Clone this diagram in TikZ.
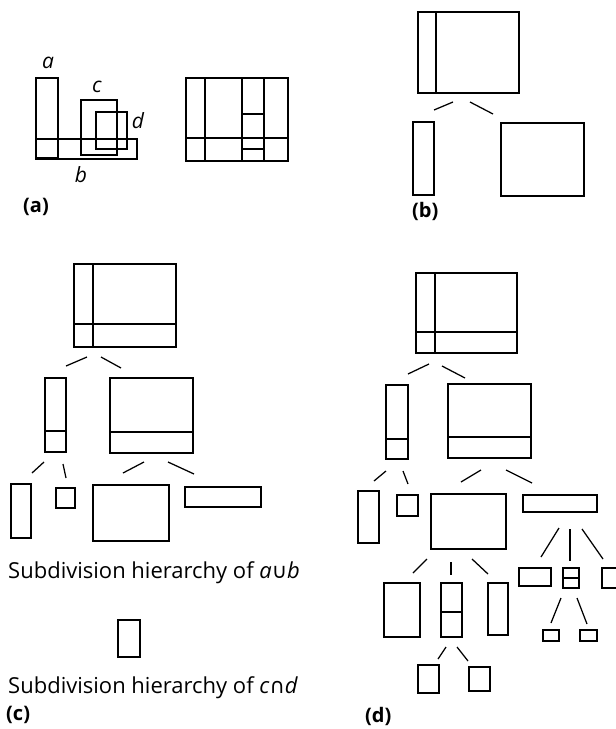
\documentclass[tikz,border=0pt]{standalone}
\usepackage{fontspec}
\setmainfont{Open Sans}
\newfontfamily\symfont{DejaVu Sans}
\usetikzlibrary{fit}
\tikzset{
  box/.style={draw, line width=1.25pt, inner sep=0pt},
  conn/.style={line width=1.25pt},
  sub/.style={line width=1.25pt},
  lab/.style={font=\fontsize{21}{22}\selectfont\itshape, inner sep=0pt},
  figlab/.style={font=\bfseries\fontsize{20}{22}\selectfont, inner sep=0pt, anchor=west},
  txt/.style={font=\fontsize{22}{24}\selectfont, inner sep=0pt, anchor=base west}
}
\newcommand\bx[5]{\node[box, fit={(#2,#3) (#4,#5)}] (#1) {};}
\newcommand\lnk[5]{\coordinate (#1s) at (#2,#3); \coordinate (#1e) at (#4,#5); \draw[conn] (#1s) -- (#1e);}
\begin{document}
\begin{tikzpicture}[x=1pt,y=-1pt]
\useasboundingbox (0,0) rectangle (616,729);
% ---------- panel (a) ----------
\bx{rb}{36}{139}{137}{159}
\bx{ra}{36}{78}{58}{158}
\bx{rc}{81}{100}{117}{155}
\bx{rd}{96}{112}{127}{149}
\node[lab] (la) at (48,63) {a};
\node[lab] (lc) at (97,87) {c};
\node[lab] (ld) at (138,121) {d};
\node[lab] (lb) at (81,175) {b};
\bx{ar}{186}{78}{288}{161}
\draw[sub] (205,78) -- (205,161);
\draw[sub] (242,78) -- (242,161);
\draw[sub] (264,78) -- (264,161);
\draw[sub] (186,138) -- (288,138);
\draw[sub] (242,114) -- (264,114);
\draw[sub] (242,149) -- (264,149);
\node[figlab] (capa) at (23,207) {(a)};
% ---------- panel (b) ----------
\bx{b0}{418}{12}{519}{93}
\draw[sub] (436,12) -- (436,93);
\bx{b1}{413}{122}{434}{195}
\bx{b2}{501}{123}{584}{196}
\lnk{bl1}{434}{110}{453}{102}
\lnk{bl2}{470}{102}{493}{114}
\node[figlab] (capb) at (412,211) {(b)};
% ---------- panel (c) ----------
\bx{c0}{74}{264}{176}{347}
\draw[sub] (93,264) -- (93,347);
\draw[sub] (74,324) -- (176,324);
\lnk{cl1}{66}{366}{87}{357}
\lnk{cl2}{101}{357}{121}{368}
\bx{c1}{45}{378}{66}{452}
\draw[sub] (45,431) -- (66,431);
\bx{c2}{110}{378}{193}{453}
\draw[sub] (110,432) -- (193,432);
\lnk{cl3}{32}{473}{44}{462}
\lnk{cl4}{63}{464}{66}{478}
\lnk{cl5}{123}{473}{144}{462}
\lnk{cl6}{168}{462}{194}{474}
\bx{c3}{11}{484}{31}{538}
\bx{c4}{56}{488}{75}{508}
\bx{c5}{93}{485}{169}{541}
\bx{c6}{185}{487}{261}{507}
\node[txt] (t1) at (8,578) {Subdivision hierarchy of \textit{a}{\symfont\fontsize{21}{21}\selectfont ∪}\textit{b}};
\bx{c7}{118}{620}{140}{657}
\node[txt] (t2) at (8,693) {Subdivision hierarchy of \textit{c}{\symfont\fontsize{21}{21}\selectfont ∩}\textit{d}};
\node[figlab] (capc) at (6,715) {(c)};
% ---------- panel (d) ----------
\bx{d0}{416}{273}{517}{353}
\draw[sub] (435,273) -- (435,353);
\draw[sub] (416,332) -- (517,332);
\lnk{dl1}{408}{374}{429}{364}
\lnk{dl2}{442}{366}{465}{378}
\bx{d1}{386}{385}{408}{459}
\draw[sub] (386,439) -- (408,439);
\bx{d2}{448}{384}{531}{458}
\draw[sub] (448,437) -- (531,437);
\lnk{dl3}{374}{481}{386}{471}
\lnk{dl4}{403}{471}{408}{484}
\lnk{dl5}{461}{482}{481}{470}
\lnk{dl6}{506}{470}{532}{483}
\bx{dA}{358}{491}{379}{543}
\bx{dB}{397}{495}{418}{516}
\bx{dC}{431}{494}{506}{549}
\bx{dD}{523}{495}{597}{512}
\lnk{dl7}{413}{573}{427}{559}
\lnk{dl8}{451}{562}{451}{575}
\lnk{dl9}{472}{559}{488}{574}
\lnk{dl10}{541}{557}{559}{528}
\lnk{dl11}{570}{529}{570}{561}
\lnk{dl12}{582}{529}{603}{559}
\bx{dE}{384}{583}{420}{637}
\bx{dF}{441}{583}{462}{637}
\draw[sub] (441,612) -- (462,612);
\bx{dG}{488}{583}{508}{635}
\bx{dH}{519}{568}{551}{586}
\bx{dI}{563}{568}{579}{588}
\draw[sub] (563,578) -- (579,578);
\bx{dJ}{602}{568}{624}{588}
\lnk{dl13}{551}{623}{561}{598}
\lnk{dl14}{577}{598}{587}{624}
\bx{dK}{543}{630}{559}{641}
\bx{dL}{580}{630}{597}{641}
\lnk{dl15}{438}{659}{446}{647}
\lnk{dl16}{457}{647}{468}{661}
\bx{dM}{418}{665}{439}{693}
\bx{dN}{469}{667}{490}{691}
\node[figlab] (capd) at (365,716) {(d)};
\end{tikzpicture}
\end{document}
